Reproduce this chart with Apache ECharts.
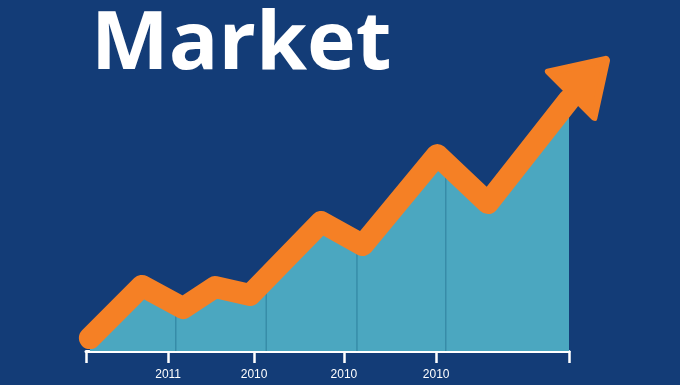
<!DOCTYPE html>
<html>
<head>
<meta charset="utf-8">
<script src="https://cdn.jsdelivr.net/npm/echarts@6/dist/echarts.min.js"></script>
<style>
html,body{margin:0;padding:0;background:#133c77;}
#chart{width:680px;height:385px;}
</style>
</head>
<body>
<div id="chart"></div>
<script>
// Data (x in axis units 0-100, y in value units 0-100)
const titleText = 'Market';
const lineX = [0.8, 11.6, 20.1, 26.7, 34.0, 48.7, 57.3, 72.7, 83.2, 100];
const lineY = [4.3, 21.7, 14.3, 21.3, 18.7, 43.0, 35.3, 65.3, 49.3, 83.7];
const arrowHead = [104.1, 91.3];
const dropX = [18.6, 37.3, 56.1, 74.5];
const dropTop = [15.5, 24.0, 36.0, 61.0];
const tickValues = [0, 17.0, 34.8, 53.4, 72.5, 100];
const labelValues = [17.0, 34.8, 53.4, 72.5];
const tickLabels = ['2011', '2010', '2010', '2010'];

const lineData = lineX.map((x, i) => [x, lineY[i]]);
const dropData = dropX.map((x, i) => [x, dropTop[i]]);

const chart = echarts.init(document.getElementById('chart'));
chart.setOption({
  backgroundColor: '#133c77',
  animation: false,
  graphic: [
    {type: 'text', x: 91, y: 6, scaleX: 1.03, z: 10,
     style: {text: titleText, fill: '#ffffff', font: 'bold 80px "Open Sans"', verticalAlign: 'top'}}
  ],
  grid: {left: 86, right: 111, top: 51, bottom: 34},
  xAxis: {
    type: 'value', min: 0, max: 100,
    splitLine: {show: false},
    axisLine: {show: true, lineStyle: {color: '#ffffff', width: 3}},
    axisTick: {show: true, customValues: tickValues, length: 12, lineStyle: {color: '#ffffff', width: 2.5}},
    axisLabel: {
      show: true, customValues: labelValues, margin: 18,
      color: '#ffffff', fontSize: 12, fontFamily: 'Liberation Sans',
      formatter: v => tickLabels[labelValues.indexOf(v)]
    }
  },
  yAxis: {type: 'value', min: 0, max: 100, show: false, splitLine: {show: false}},
  series: [
    {
      type: 'line', data: lineData, showSymbol: false, z: 2,
      lineStyle: {width: 0},
      areaStyle: {color: '#4ba7c0', opacity: 1}
    },
    {
      type: 'bar', data: dropData, barWidth: 1, z: 3,
      itemStyle: {color: '#2d7f9c'}
    },
    {
      type: 'line', data: lineData, showSymbol: false, z: 4, clip: false,
      lineStyle: {color: '#f58025', width: 22, cap: 'round', join: 'round'}
    },
    {
      type: 'scatter', data: [arrowHead], clip: false, z: 5,
      symbol: 'triangle', symbolSize: [64, 50], symbolRotate: -45,
      itemStyle: {color: '#f58025', opacity: 1, borderColor: '#f58025', borderWidth: 7, borderJoin: 'round'}
    }
  ]
});
</script>
</body>
</html>
